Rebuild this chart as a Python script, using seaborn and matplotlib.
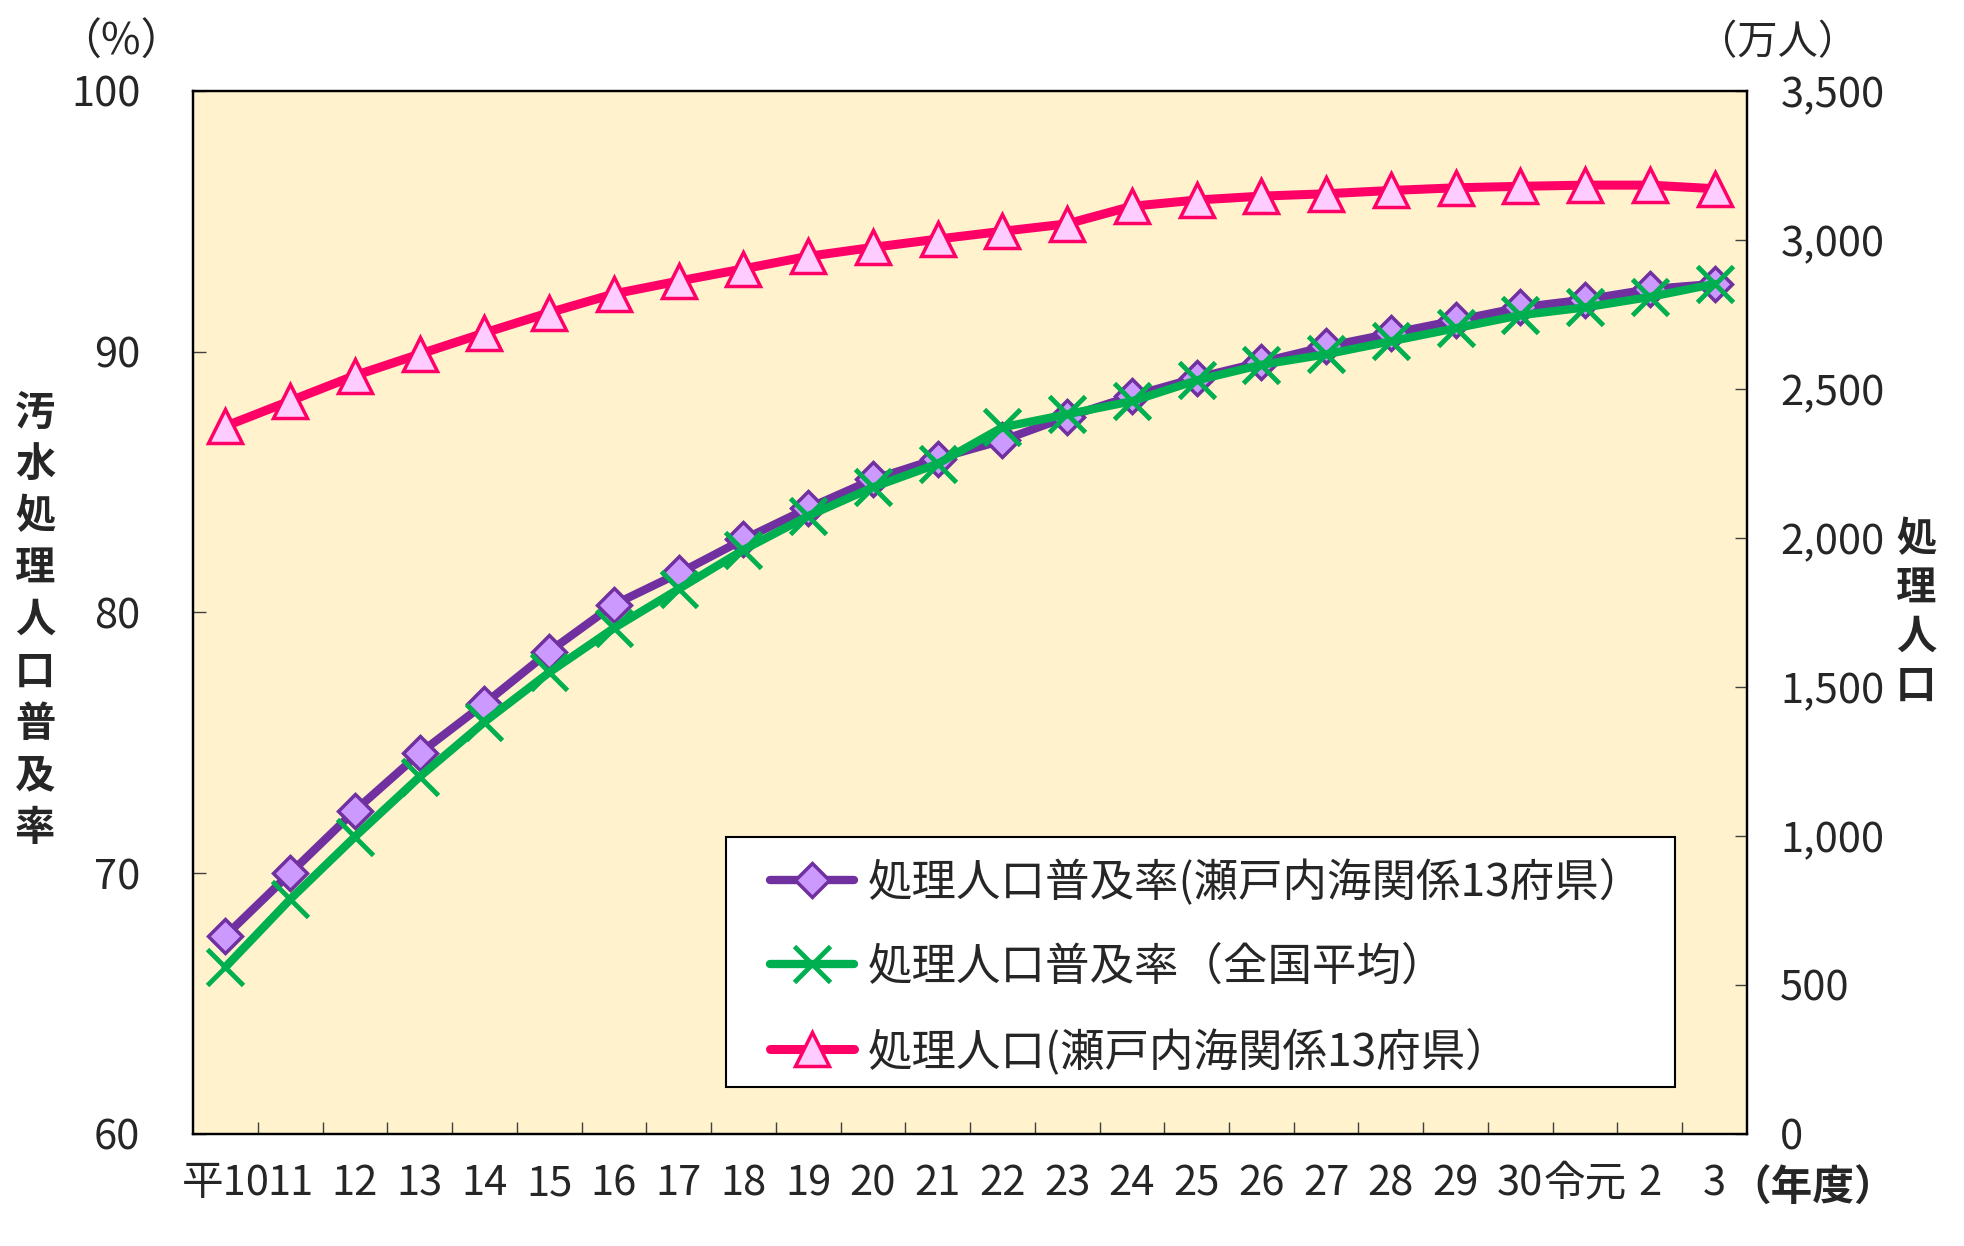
import numpy as np
import pandas as pd
import matplotlib
matplotlib.use("Agg")
import matplotlib.pyplot as plt
import seaborn as sns
from matplotlib.patches import Rectangle
from matplotlib.ticker import FuncFormatter, MultipleLocator, FixedLocator

# ---- data ----
years = ['平10', '11', '12', '13', '14', '15', '16', '17', '18', '19', '20', '21',
         '22', '23', '24', '25', '26', '27', '28', '29', '30', '令元', '2', '3']
rate_seto = [67.6, 70.0, 72.4, 74.6, 76.5, 78.5, 80.3, 81.5, 82.8, 84.0, 85.1, 85.9,
             86.6, 87.5, 88.3, 89.0, 89.6, 90.2, 90.7, 91.2, 91.7, 92.0, 92.4, 92.6]
rate_national = [66.4, 69.0, 71.4, 73.7, 75.8, 77.7, 79.4, 80.9, 82.4, 83.7, 84.8, 85.7,
                 87.1, 87.6, 88.1, 88.9, 89.5, 89.9, 90.4, 90.9, 91.4, 91.7, 92.1, 92.6]
pop_seto = [2375, 2460, 2545, 2617, 2688, 2756, 2819, 2862, 2903, 2945, 2975, 3003,
            3029, 3054, 3113, 3134, 3147, 3155, 3166, 3175, 3180, 3184, 3184, 3172]
legend_labels = ['処理人口普及率(瀬戸内海関係13府県）', '処理人口普及率（全国平均）',
                 '処理人口(瀬戸内海関係13府県）']

df = pd.DataFrame({'pos': np.arange(len(years)), 'seto': rate_seto,
                   'nat': rate_national, 'pop': pop_seto})

sns.set_style("white")
FAM = ['Noto Sans CJK JP', 'DejaVu Sans']
plt.rcParams['font.family'] = FAM
plt.rcParams['axes.unicode_minus'] = False

fig = plt.figure(figsize=(19.64, 12.46), dpi=100)
ax = fig.add_axes([0.0983, 0.0899, 0.7912, 0.8371])
ax.set_facecolor('#FFF2CC')

sns.lineplot(data=df, x='pos', y='seto', ax=ax, color='#7030A0', linewidth=6,
             marker='D', markersize=17, markerfacecolor='#CC99FF',
             markeredgecolor='#7030A0', markeredgewidth=2.5, legend=False, zorder=3)
sns.lineplot(data=df, x='pos', y='nat', ax=ax, color='#00B050', linewidth=6,
             marker='x', markersize=26, markeredgecolor='#00B050',
             markeredgewidth=3.5, legend=False, zorder=4)

ax2 = ax.twinx()
sns.lineplot(data=df, x='pos', y='pop', ax=ax2, color='#FF0066', linewidth=6.5,
             marker='^', markersize=24, markerfacecolor='#FFCCFF',
             markeredgecolor='#FF0066', markeredgewidth=2.5, legend=False, zorder=3)

ax.set_xlim(-0.5, len(years) - 0.5)
ax.set_ylim(60, 100)
ax2.set_ylim(0, 3500)
ax.set_xlabel('')
ax.set_ylabel('')
ax2.set_ylabel('')

ax.yaxis.set_major_locator(MultipleLocator(10))
ax2.yaxis.set_major_locator(MultipleLocator(500))
ax2.yaxis.set_major_formatter(FuncFormatter(lambda v, p: f'{int(v):,}'))

ax.set_xticks(df['pos'])
ax.set_xticklabels(years)
ax.xaxis.set_minor_locator(FixedLocator(np.arange(0.5, len(years) - 1, 1.0)))

ax.tick_params(axis='x', which='major', length=0, pad=21, labelsize=30, bottom=True)
ax.tick_params(axis='x', which='minor', direction='in', length=9, width=1,
               color='#404040', bottom=True)
ax.tick_params(axis='y', which='major', direction='in', length=9, width=1,
               color='#404040', left=True, pad=38, labelsize=30)
ax2.tick_params(axis='y', which='major', direction='in', length=9, width=1,
                color='#404040', right=True, pad=24, labelsize=30)

for a in (ax, ax2):
    for s in a.spines.values():
        s.set_color('black')
        s.set_linewidth(1.6)

# legend box
rect = Rectangle((0.343, 0.045), 0.611, 0.24, transform=ax2.transAxes,
                 facecolor='white', edgecolor='black', linewidth=1.5, zorder=6)
ax2.add_patch(rect)
handles = [ax.get_lines()[0], ax.get_lines()[1], ax2.get_lines()[0]]
leg = ax2.legend(handles, legend_labels, loc='upper left',
                 bbox_to_anchor=(0.371, 0.264), frameon=False,
                 prop={'family': FAM, 'size': 32}, handlelength=1.9,
                 handletextpad=0.3, labelspacing=0.86, borderpad=0,
                 borderaxespad=0)
leg.set_zorder(7)

# texts
fig.text(0.0615, 0.9660, '（%）', ha='center', va='center', fontsize=31, family=FAM)
fig.text(0.9050, 0.9660, '（万人）', ha='center', va='center', fontsize=29, family=FAM)
fig.text(0.9230, 0.0460, '（年度）', ha='center', va='center', fontsize=30,
         fontweight='bold', family=FAM)
fig.text(0.0178, 0.502, '\n'.join('汚水処理人口普及率'), ha='center', va='center',
         fontsize=29, fontweight='bold', linespacing=1.34, family=FAM)
fig.text(0.9756, 0.508, '\n'.join('処理人口'), ha='center', va='center',
         fontsize=29, fontweight='bold', linespacing=1.25, family=FAM)

fig.savefig('out.png', dpi=100)
